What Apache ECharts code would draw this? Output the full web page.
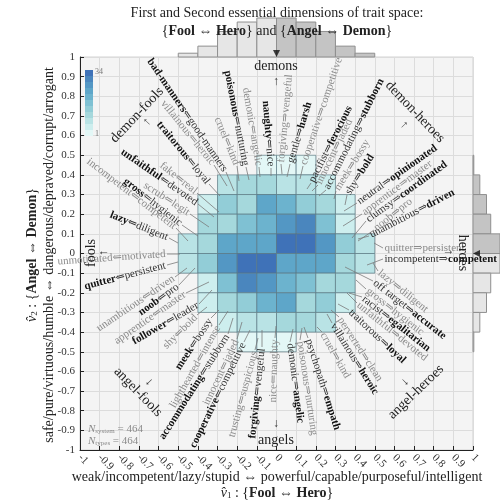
<!DOCTYPE html>
<html><head><meta charset="utf-8">
<script src="https://cdn.jsdelivr.net/npm/echarts@6/dist/echarts.min.js"></script>
<style>html,body{margin:0;padding:0;background:#fff}#c{width:500px;height:502px}</style>
</head><body><div id="c"></div>
<script>
// ---------------- data ----------------
const xBinStarts = [-0.5,-0.4,-0.3,-0.2,-0.1,0,0.1,0.2,0.3,0.4];
const yBinStarts = [0.4,0.3,0.2,0.1,0,-0.1,-0.2,-0.3,-0.4,-0.5]; // top row first
const counts = [
  [0,0,0,0,2,2,2,0,0,0],
  [0,0,7,12,10,8,9,6,0,0],
  [0,4,13,10,24,20,14,10,4,0],
  [0,11,10,16,19,25,29,16,4,0],
  [8,10,24,22,23,32,34,25,13,7],
  [7,13,25,34,32,23,22,24,10,8],
  [0,4,16,29,25,19,16,10,11,0],
  [0,4,10,14,20,24,10,13,4,0],
  [0,0,6,9,8,10,12,7,0,0],
  [0,0,0,2,2,2,0,0,0,0]
];
const xHistCounts = [16,46,108,148,165,165,148,108,46,16];
const yHistCounts = [6,50,99,130,198,198,130,99,50,6]; // top bin first
const meanV1 = 0, meanV2 = 0;
const nSystem = 464, nTypes = 464;
const colorbarRange = [1, 34];

// trait annotations: text, emphasised, text inner end (px), rotation (deg), leader end (px)
const traitLabels = [
  ['bad-manners⇐good-manners',1,226,172,-55.7,234,191],
  ['villainous⇐heroic',0,214,165,-51,227,186],
  ['traitorous⇐loyal',1,209,184,-50.5,220,196],
  ['cruel⇐kind',0,237,166,-67.8,239,181],
  ['poisonous⇐nurturing',1,246,167,-79,249,180],
  ['demonic⇐angelic',0,259,167,-80.5,260,177],
  ['naughty⇐nice',1,271,168,-85.4,271,176],
  ['unfaithful⇐devoted',1,198,204,-34.8,214,217],
  ['fake⇐real',0,197,193,-38.7,219,212],
  ['scrub⇐legit',0,190,214,-32.9,209,227],
  ['gross⇐hygienic',1,182,225,-38,198,236],
  ['incompetent⇐competent',0,176,228,-37.5,188,241],
  ['lazy⇐diligent',1,169,238,-21.8,178,243],
  ['unmotivated⇐motivated',0,167,254,4,180,254],
  ['quitter⇐persistent',1,167,265,14.7,178,262],
  ['unambitious⇐driven',0,175,277,34,187,268],
  ['noob⇐pro',1,179,285,35.7,195,268],
  ['apprentice⇐master',0,186,293,34.7,209,282],
  ['follower⇐leader',1,199,304,30,212,290],
  ['shy⇐bold',0,197,315,45,207,307],
  ['meek⇐bossy',1,211,318,56.8,219,310],
  ['lighthearted⇐intense',0,219,325,60.5,228,311],
  ['accommodating⇐stubborn',1,228,334,57.6,233,318],
  ['innocent⇐jaded',0,237,339,64.6,242,322],
  ['cooperative⇐competitive',1,244,342,64,250,330],
  ['trusting⇐suspicious',0,255,350,75,258,338],
  ['forgiving⇐vengeful',1,262,347,84,262,330],
  ['nice⇐naughty',0,275,338,88.4,276,326],
  ['demonic⇒angelic',1,290,342,-82.7,293,329],
  ['poisonous⇒nurturing',0,300,340,-81.5,302,328],
  ['psychopath⇒empath',1,308,338,-72.3,304,327],
  ['cruel⇒kind',0,322,332,-60.5,317,327],
  ['villainous⇒heroic',1,332,323,-58,327,314],
  ['perverted⇒clean',0,339,317,-57,331,310],
  ['traitorous⇒loyal',1,349,310,-43,338,304],
  ['unfaithful⇒devoted',0,357,303,-39,347,293],
  ['racist⇒egalitarian',1,362,297,-38,349,293],
  ['gross⇒hygienic',0,366,289,-38,356,280],
  ['off target⇒accurate',1,373,281,-38,345,267],
  ['lazy⇒diligent',0,378,271,-39,373,263],
  ['incompetent⇒competent',1,383,259,0,367,265],
  ['quitter⇒persistent',0,383,248,0,374,243],
  ['unambitious⇒driven',1,369,236,27.5,358,239],
  ['noob⇒pro',0,374,230,38.8,358,241],
  ['clumsy⇒coordinated',1,366,221,35.7,352,238],
  ['apprentice⇒master',0,362,214,36.6,343,226],
  ['neutral⇒opinionated',1,357,203,35.2,344,211],
  ['shy⇒bold',1,347,195,57.9,345,205],
  ['meek⇒bossy',0,336,191,58,334,199],
  ['accommodating⇒stubborn',1,326,190,63.4,319,196],
  ['innocent⇒jaded',0,318,185,64,312,191],
  ['pacifist⇒ferocious',1,311,183,63.2,307,189],
  ['cooperative⇒competitive',0,303,166,71.4,300,179],
  ['gentle⇒harsh',1,290,164,73,287,177],
  ['forgiving⇒vengeful',0,281,164,84.8,282,174]
];

// ---------------- styles ----------------
const SERIF = '"Liberation Serif", "DejaVu Serif", serif';
const colorSteps = ['#e3f7f6','#cdeeee','#b9e3e5','#a5d8dc','#92cdd7','#7fc1d3','#6cb3ce','#5ea6c9','#5397c4','#4a86be','#3f72b8'];
const pieceBounds = [[1,3],[4,6],[7,9],[10,12],[13,15],[16,18],[19,21],[22,24],[25,27],[28,30],[31,34]];

const cellData = [];
counts.forEach((row, r) => row.forEach((v, c) => { if (v > 0) cellData.push([xBinStarts[c], yBinStarts[r], v]); }));

function cellRender(params, api) {
  const x = api.value(0), y = api.value(1);
  const a = api.coord([x, y + 0.1]), b = api.coord([x + 0.1, y]);
  return {type:'rect', shape:{x:a[0], y:a[1], width:b[0]-a[0], height:b[1]-a[1]},
    style:{fill: api.visual('color'), stroke:'rgba(90,120,130,0.75)', lineWidth:0.9}};
}
function topHistRender(params, api) {
  const x = api.value(0), v = api.value(1);
  const a = api.coord([x, v]), b = api.coord([x + 0.1, 0]);
  return {type:'rect', shape:{x:a[0], y:a[1], width:b[0]-a[0], height:b[1]-a[1]},
    style:{fill: x < 0 ? '#e6e6e6' : '#c4c4c4', stroke:'#8f8f8f', lineWidth:1}};
}
function rightHistRender(params, api) {
  const v = api.value(0), y = api.value(1);
  const a = api.coord([0, y + 0.1]), b = api.coord([v, y]);
  return {type:'rect', shape:{x:a[0], y:a[1], width:b[0]-a[0], height:b[1]-a[1]},
    style:{fill: y >= 0 ? '#c4c4c4' : '#e6e6e6', stroke:'#8f8f8f', lineWidth:1}};
}

function T(x, y, text, o) {
  o = o || {};
  return {type:'text', x:x, y:y, rotation:(o.rot||0)*Math.PI/180, z:100, silent:true,
    style:{text:text, fontFamily:SERIF, fontSize:o.size||12, fill:o.fill||'#222',
      align:o.align||'center', verticalAlign:o.va||'middle', fontWeight:o.weight||'normal', rich:o.rich}};
}
const LS = 11;
const labelRich = {
  b:{fontFamily:SERIF, fontSize:LS, fontWeight:'bold', fill:'#111'},
  n:{fontFamily:SERIF, fontSize:LS, fill:'#333'},
  g:{fontFamily:SERIF, fontSize:LS, fill:'#8a8a8a'}
};
const nameRich = {
  b:{fontFamily:SERIF, fontSize:14, fontWeight:'bold', fill:'#222'},
  i:{fontFamily:SERIF, fontSize:14, fontStyle:'italic', fill:'#222'},
  s:{fontFamily:SERIF, fontSize:9, fill:'#222', verticalAlign:'bottom'}
};
const nRich = {
  i:{fontFamily:SERIF, fontSize:11, fontStyle:'italic', fill:'#8a8a8a'},
  s:{fontFamily:SERIF, fontSize:7, fill:'#8a8a8a', verticalAlign:'bottom'},
  t:{fontFamily:SERIF, fontSize:11, fill:'#8a8a8a'}
};

const gfx = [];
traitLabels.forEach(function (L) {
  const t = L[0], e = L[1], ix = L[2], iy = L[3], rot = L[4], lx = L[5], ly = L[6];
  const inward = t.indexOf('⇐') >= 0;
  const sep = inward ? '⇐' : '⇒';
  const parts = t.split(sep);
  let txt;
  if (e) txt = inward ? '{b|' + parts[0] + '}{n|' + sep + parts[1] + '}' : '{n|' + parts[0] + sep + '}{b|' + parts[1] + '}';
  else txt = '{g|' + t + '}';
  const r = rot * Math.PI / 180, dx = Math.cos(r), dy = -Math.sin(r), s = inward ? -1.5 : 1.5;
  gfx.push({type:'line', z:99, silent:true, shape:{x1:ix, y1:iy, x2:lx, y2:ly}, style:{stroke:'#7a7a7a', lineWidth:0.8}});
  gfx.push({type:'text', z:100, silent:true, x:ix + s*dx, y:iy + s*dy, rotation:r,
    style:{text:txt, rich:labelRich, fontFamily:SERIF, fontSize:LS, align:inward?'right':'left', verticalAlign:'middle'}});
});

// titles and axis names
gfx.push(T(277, 13, 'First and Second essential dimensions of trait space:', {size:14}));
gfx.push(T(277, 31, '{{b|Fool} ⇔ {b|Hero}} and {{b|Angel} ⇔ {b|Demon}}', {size:14, rich:nameRich}));
gfx.push(T(277, 477, 'weak/incompetent/lazy/stupid ⇔ powerful/capable/purposeful/intelligent', {size:14}));
gfx.push(T(277, 493, '{i|v\u0302}{s|1} : {{b|Fool} ⇔ {b|Hero}}', {size:14, rich:nameRich}));
gfx.push(T(49, 255, 'safe/pure/virtuous/humble ⇔ dangerous/depraved/corrupt/arrogant', {size:14, rot:90}));
gfx.push(T(32, 255, '{i|v\u0302}{s|2} : {{b|Angel} ⇔ {b|Demon}}', {size:14, rot:90, rich:nameRich}));

// region labels
const RS = 14, AC = '#333';
gfx.push(T(276, 66, 'demons', {size:RS}));
gfx.push(T(276, 82, '↑', {size:12, fill:AC}));
gfx.push(T(276, 440, 'angels', {size:RS}));
gfx.push(T(276, 424, '↓', {size:12, fill:AC}));
gfx.push(T(91, 253, 'fools', {size:RS, rot:90}));
gfx.push(T(104, 253, '↑', {size:12, fill:AC, rot:90}));
gfx.push(T(463, 253, 'heroes', {size:RS, rot:-90}));
gfx.push(T(448, 252, '↑', {size:12, fill:AC, rot:-90}));
gfx.push(T(137, 115, 'demon-fools', {size:RS, rot:46.6}));
gfx.push(T(147, 122, '↑', {size:12, fill:AC, rot:46}));
gfx.push(T(415, 112, 'demon-heroes', {size:RS, rot:-46.4}));
gfx.push(T(404, 125, '↑', {size:12, fill:AC, rot:-46}));
gfx.push(T(138, 392, 'angel-fools', {size:RS, rot:-46}));
gfx.push(T(149, 382, '↓', {size:12, fill:AC, rot:-46}));
gfx.push(T(416, 392, 'angel-heroes', {size:RS, rot:44}));
gfx.push(T(405, 382, '↓', {size:12, fill:AC, rot:44}));

// N annotations & colorbar ticks
gfx.push(T(88, 429, '{i|N}{s|system}{t| = ' + nSystem + '}', {align:'left', rich:nRich, size:11, fill:'#8a8a8a'}));
gfx.push(T(88, 441, '{i|N}{s|types}{t| = ' + nTypes + '}', {align:'left', rich:nRich, size:11, fill:'#8a8a8a'}));
gfx.push(T(95, 72, String(colorbarRange[1]), {align:'left', size:8, fill:'#777'}));
gfx.push(T(95, 134, String(colorbarRange[0]), {align:'left', size:8, fill:'#777'}));

const axisCommon = {
  type:'value', min:-1, max:1, interval:0.1,
  axisLine:{show:true, onZero:false, lineStyle:{color:'#222', width:1}},
  axisTick:{show:true, inside:true, length:4, lineStyle:{color:'#222'}},
  splitLine:{show:true, lineStyle:{color:'#dcdcdc', width:1}}
};

const chart = echarts.init(document.getElementById('c'), null, {renderer:'canvas'});
chart.setOption({
  animation:false,
  backgroundColor:'#ffffff',
  grid:[
    {left:80, top:57, width:393, height:393, show:true, backgroundColor:'#f4f4f4', borderColor:'#d2d2d2', borderWidth:1},
    {left:80, top:18, width:393, height:39},
    {left:473, top:57, width:39, height:393}
  ],
  xAxis:[
    Object.assign({gridIndex:0, axisLabel:{rotate:-45, fontFamily:SERIF, fontSize:11, color:'#333', margin:6}}, axisCommon),
    {gridIndex:1, type:'value', min:-1, max:1, show:false},
    {gridIndex:2, type:'value', min:0, max:Math.max.apply(null, yHistCounts), show:false}
  ],
  yAxis:[
    Object.assign({gridIndex:0, axisLabel:{fontFamily:SERIF, fontSize:11, color:'#333', margin:5}}, axisCommon),
    {gridIndex:1, type:'value', min:0, max:Math.max.apply(null, xHistCounts), show:false},
    {gridIndex:2, type:'value', min:-1, max:1, show:false}
  ],
  visualMap:{
    type:'piecewise', seriesIndex:0, dimension:2, orient:'vertical',
    left:85, top:70, padding:0, itemWidth:8, itemHeight:6, itemGap:0, itemSymbol:'rect',
    showLabel:false, selectedMode:false,
    pieces: pieceBounds.map(function (b, i) { return {gte:b[0], lte:b[1], color:colorSteps[i]}; })
  },
  series:[
    {type:'custom', xAxisIndex:0, yAxisIndex:0, renderItem:cellRender, data:cellData, encode:{x:0, y:1}, z:2, silent:true},
    {type:'custom', xAxisIndex:1, yAxisIndex:1, renderItem:topHistRender,
      data:xBinStarts.map(function (x, i) { return [x, xHistCounts[i]]; }), encode:{x:0, y:1}, z:1, silent:true},
    {type:'custom', xAxisIndex:2, yAxisIndex:2, renderItem:rightHistRender,
      data:yBinStarts.map(function (y, i) { return [yHistCounts[i], y]; }), encode:{x:0, y:1}, z:1, silent:true},
    {type:'scatter', xAxisIndex:0, yAxisIndex:0, symbol:'triangle', symbolSize:7, clip:false, z:10, silent:true,
      itemStyle:{color:'#111'},
      data:[{value:[meanV1, 1], symbolRotate:180, symbolOffset:[0,-3.5]}, {value:[1, meanV2], symbolRotate:90, symbolOffset:[3.5,0]}]}
  ],
  graphic:{elements:gfx}
});
</script></body></html>
